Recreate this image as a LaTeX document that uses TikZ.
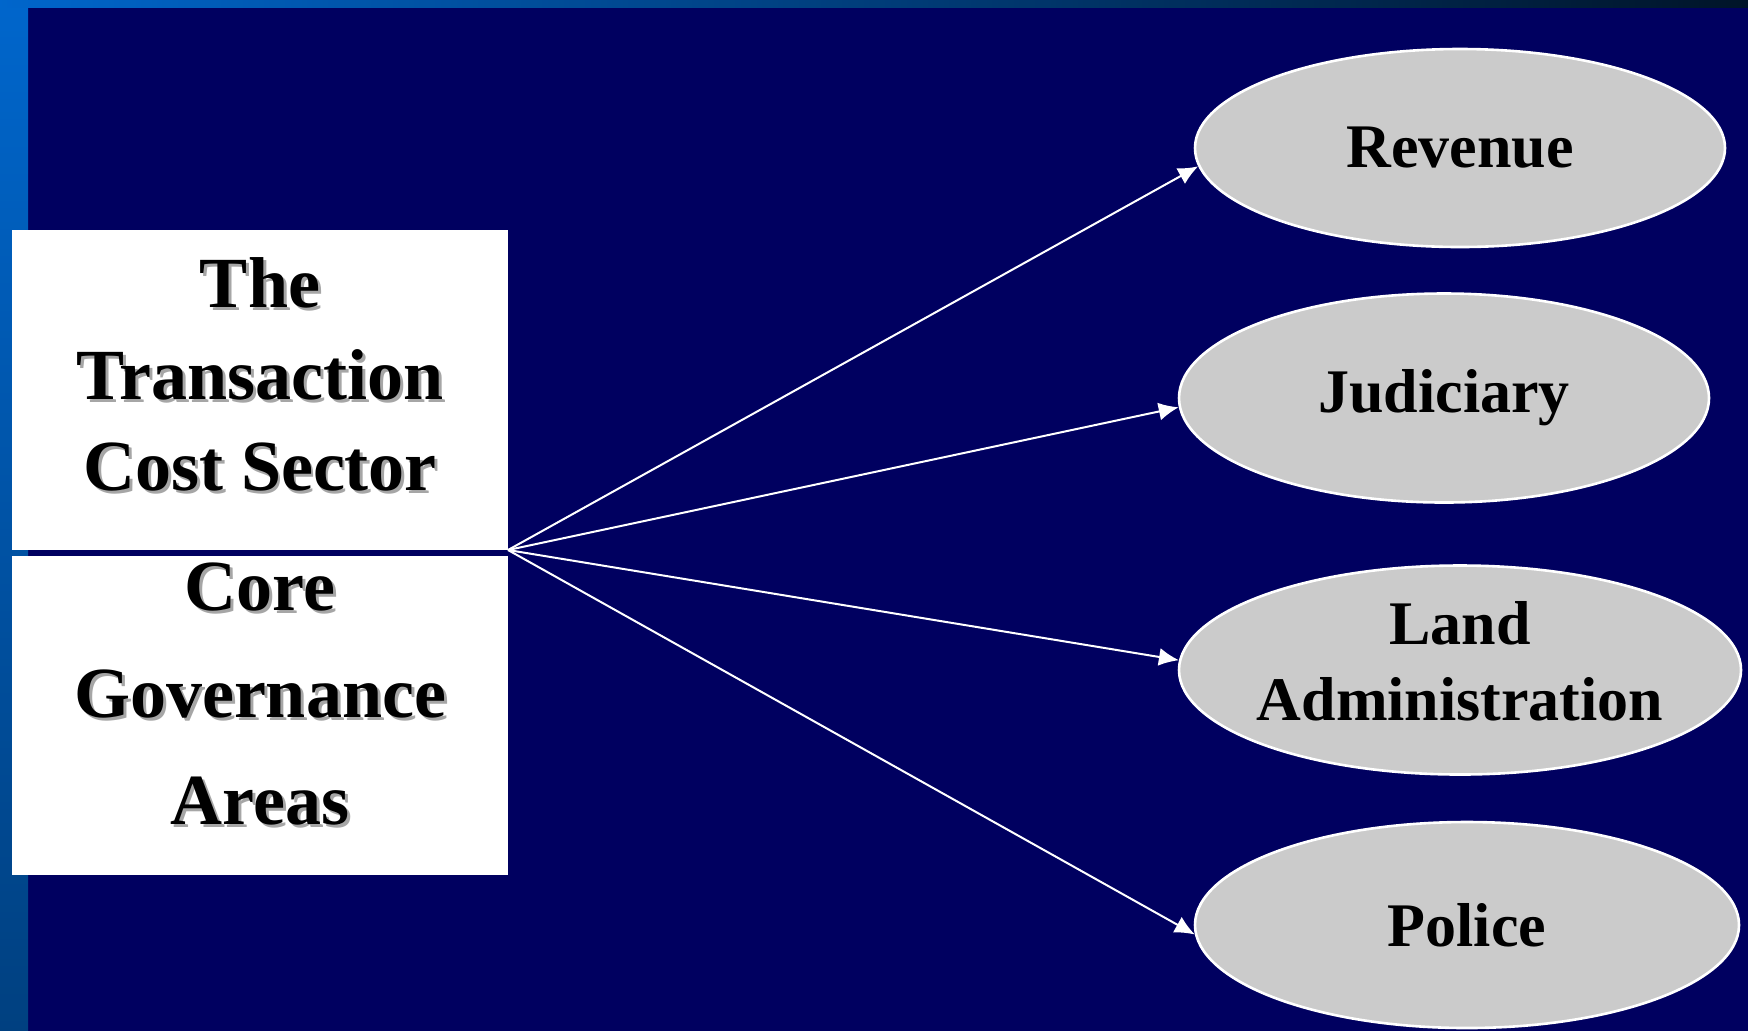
\documentclass[tikz,border=0pt]{standalone}
\usepackage{fontspec}
\setmainfont{Liberation Serif}
\usetikzlibrary{arrows.meta,positioning,shapes.geometric}

\definecolor{slidenavy}{RGB}{0,0,96}
\definecolor{stripblue}{RGB}{0,102,204}
\definecolor{stripdeep}{RGB}{0,64,128}
\definecolor{stripdark}{RGB}{0,20,40}
\definecolor{ovalgrey}{RGB}{203,203,203}

\newcommand{\shadowed}[1]{\rlap{\hspace{1.5pt}\raisebox{-1.5pt}{\textcolor{black!35}{#1}}}#1}

\tikzset{
 panel/.style={fill=white,inner sep=0pt,outer sep=0pt,minimum width=248pt},
 paneltext/.style={align=center,font=\bfseries\fontsize{36}{#1}\selectfont},
 area/.style={ellipse,draw=white,line width=1.3pt,fill=ovalgrey,inner sep=0pt,align=center,font=\bfseries\fontsize{31}{38}\selectfont},
 link/.style={white,line width=1pt,-{Latex[length=10pt,width=9pt]}}
}

\begin{document}
\begin{tikzpicture}[x=0.5pt,y=-0.5pt]
\useasboundingbox (0,0) rectangle (1748,1030);

\fill[slidenavy] (-4,-4) rectangle (1752,1034);
\shade[top color=stripblue,bottom color=stripdeep] (-4,-4) rectangle (28,1034);
\shade[left color=stripblue,right color=stripdark] (-4,-4) rectangle (1752,7);

\node[panel,minimum height=160pt] (tcs) at (260,390) {};
\node[panel,minimum height=159.5pt] (cga) at (260,715.5) {};

\node[paneltext=45.75] at ([yshift=7pt]tcs.center) {\shadowed{The}\\\shadowed{Transaction}\\\shadowed{Cost Sector}};
\node[paneltext=53.5] at ([yshift=10pt]cga.center) {\shadowed{Core}\\\shadowed{Governance}\\\shadowed{Areas}};

\node[area,minimum width=265pt,minimum height=99pt] (rev) at (1460,148) {\makebox[0pt]{Revenue}};
\node[area,minimum width=265pt,minimum height=104.5pt] (jud) at (1444,398) {\makebox[0pt]{Judiciary}};
\node[area,minimum width=281pt,minimum height=104.5pt,text depth=9pt] (land) at (1460,670) {\makebox[0pt]{Land}\\\makebox[0pt]{Administration}};
\node[area,minimum width=272pt,minimum height=103pt] (pol) at (1467,925) {\makebox[0pt]{Police}};

\draw[link] (tcs.south east) -- (rev.184);
\draw[link] (tcs.south east) -- (jud.182);
\draw[link] (tcs.south east) -- (land.178);
\draw[link] (tcs.south east) -- (pol.182);

\end{tikzpicture}
\end{document}
